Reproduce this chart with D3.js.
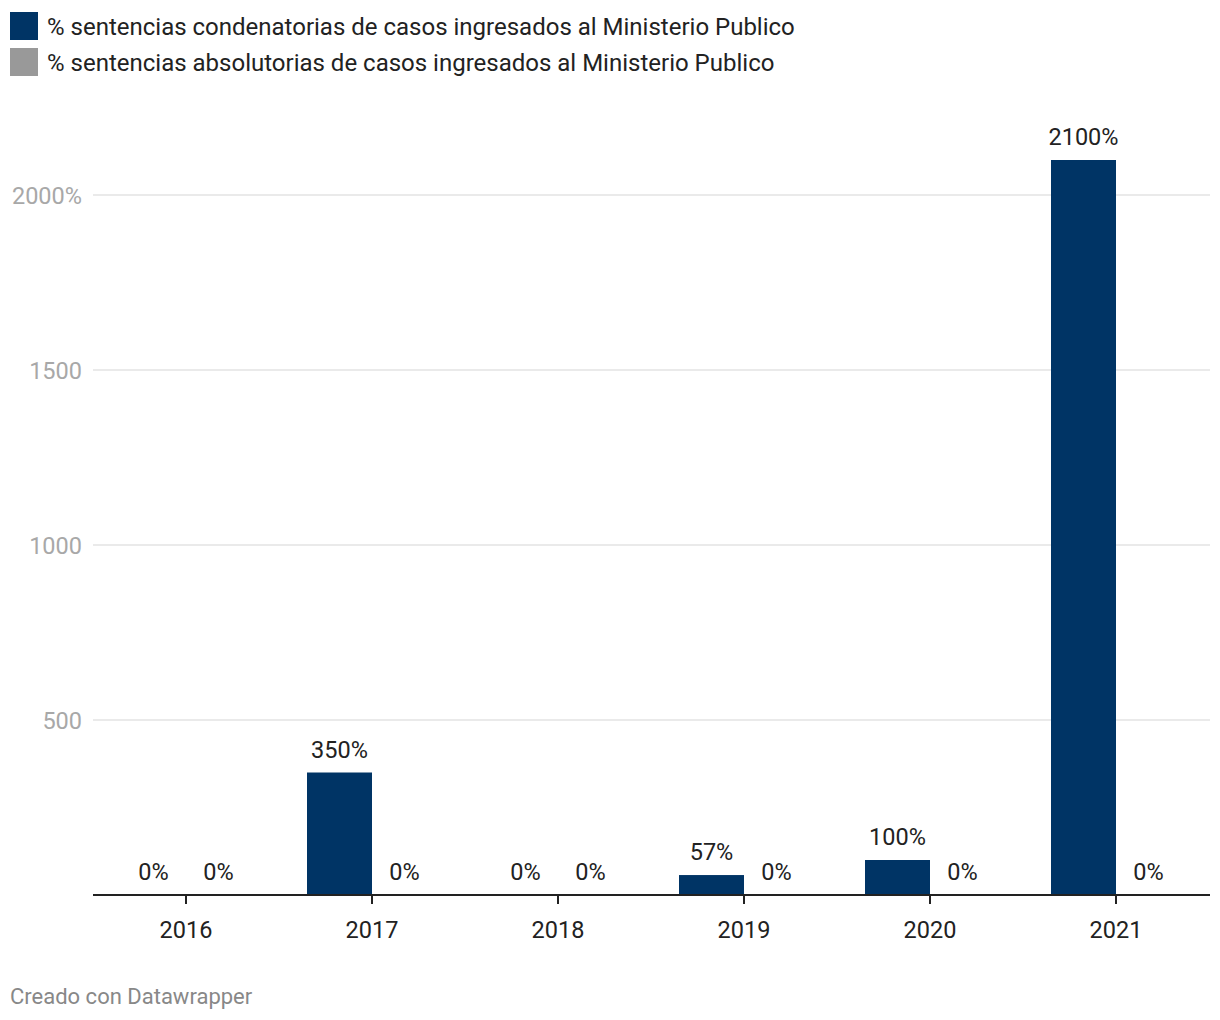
<!DOCTYPE html>
<html><head><meta charset="utf-8">
<script src="https://cdn.jsdelivr.net/npm/d3@7"></script>
<style>body{margin:0;background:#fff;font-family:Roboto,sans-serif}</style>
</head><body><svg id="c" width="1220" height="1020"></svg>
<script>
const years = ["2016","2017","2018","2019","2020","2021"];
const condenatorias = [0, 350, 0, 57, 100, 2100];
const absolutorias = [0, 0, 0, 0, 0, 0];
const seriesNames = ["% sentencias condenatorias de casos ingresados al Ministerio Publico","% sentencias absolutorias de casos ingresados al Ministerio Publico"];
const seriesColors = ["#003465","#999999"];
const yTicks = [500, 1000, 1500, 2000];
const yTickLabels = ["500","1000","1500","2000%"];

const svg = d3.select("#c");
const x = d3.scaleBand().domain(years).range([93, 1209]).paddingInner(0).paddingOuter(0);
const x1 = d3.scaleBand().domain([0,1]).range([28, 158]);
const y = d3.scaleLinear().domain([0, 2100]).range([895, 160]);

// legend
seriesNames.forEach((n,i)=>{
  const g = svg.append("g").attr("transform",`translate(10,${12+i*36})`);
  g.append("rect").attr("width",28).attr("height",28).attr("fill",seriesColors[i]);
  g.append("text").attr("x",37).attr("y",14).attr("dy","0.36em").attr("font-size",24).attr("fill","#222").text(n);
});

// grid
svg.append("g").selectAll("line").data(yTicks).join("line")
  .attr("x1",93).attr("x2",1210).attr("y1",d=>y(d)).attr("y2",d=>y(d))
  .attr("stroke","#e3e3e3").attr("stroke-width",1.5);
svg.append("g").selectAll("text").data(yTicks).join("text")
  .attr("x",82).attr("y",d=>y(d)+1).attr("dy","0.36em").attr("font-size",23.5).attr("fill","#a8a8a8")
  .attr("text-anchor","end")
  .text((d,i)=>yTickLabels[i]);

// bars
const groups = svg.append("g").selectAll("g").data(years).join("g")
  .attr("transform",d=>`translate(${x(d)},0)`);
const data = years.map((yr,i)=>[condenatorias[i], absolutorias[i]]);
groups.each(function(yr,i){
  const g = d3.select(this);
  data[i].forEach((v,s)=>{
    g.append("rect").attr("x",x1(s)).attr("width",x1.bandwidth()).attr("y",y(v)).attr("height",y(0)-y(v)).attr("fill",seriesColors[s]);
    g.append("text").attr("x",x1(s)+x1.bandwidth()/2).attr("y",y(v)-15).attr("text-anchor","middle")
      .attr("font-size",23.5).attr("fill","#222").text(v+"%");
  });
});

// axis
const ax = svg.append("g").attr("transform","translate(0,895)").call(d3.axisBottom(x).tickSize(9).tickSizeOuter(0));
ax.select(".domain").attr("stroke","#222").attr("stroke-width",2).attr("d","M93,0H1210");
ax.selectAll(".tick line").attr("stroke","#222").attr("stroke-width",2);
ax.selectAll(".tick text").attr("font-size",23.5).attr("fill","#222").attr("font-family","Roboto").attr("y",35).attr("dy","0.36em");

svg.append("text").attr("x",10).attr("y",996).attr("dy","0.36em").attr("font-size",22).attr("fill","#888").text("Creado con Datawrapper");
</script></body></html>
